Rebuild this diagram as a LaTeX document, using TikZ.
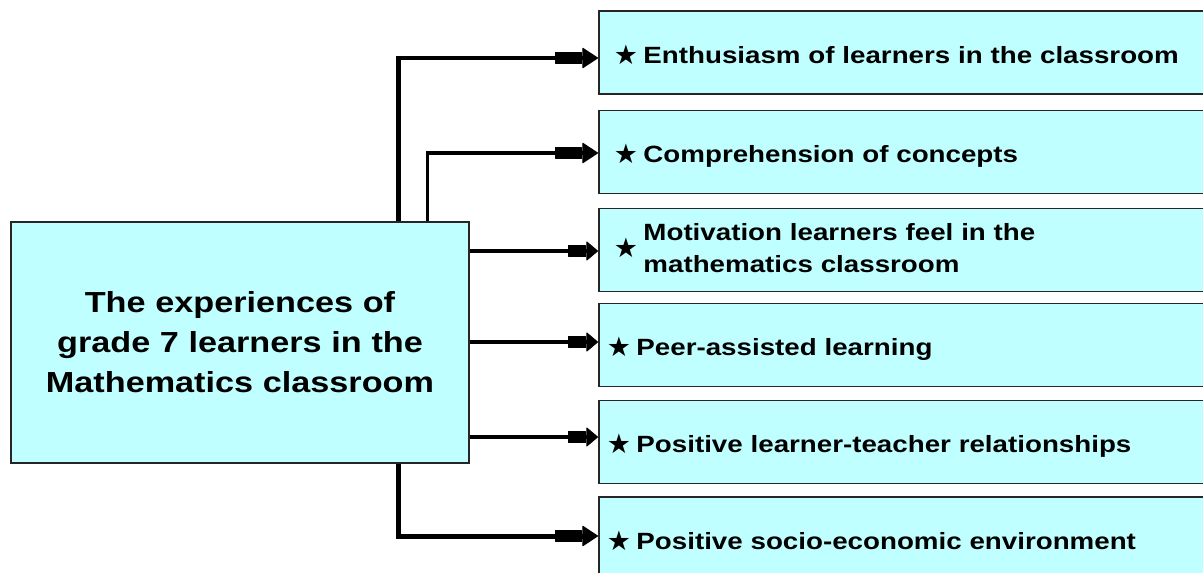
\documentclass[tikz,border=0pt]{standalone}
\usepackage{fontspec}
\setmainfont{Liberation Sans}[FakeStretch=1.18]
\newfontfamily\symfont{DejaVu Sans}
\usetikzlibrary{arrows.meta}
\definecolor{boxcyan}{HTML}{BFFFFF}
\newcommand\starglyph{\raisebox{-1pt}{\symfont\fontsize{27}{27}\selectfont ★}}
\newcommand\mystar{\starglyph\hspace{5.5pt}}
\begin{document}
\begin{tikzpicture}[x=1pt,y=-1pt,
  box/.style={draw=black!85, line width=1.5pt, fill=boxcyan},
  item/.style={box, anchor=west, minimum height=83pt, text width=590pt, inner xsep=15pt, align=left,
    text height=23pt, text depth=2pt,
    font=\fontsize{23.5}{32}\selectfont\bfseries},
  itemb/.style={item, inner xsep=8pt},
  bigtip/.style={-{Rectangle[length=27pt,width=12pt,round,line width=1pt]Triangle[length=16pt,width=21pt,round,line width=1pt]}},
  smalltip/.style={-{Rectangle[length=18pt,width=12pt,round,line width=1pt]Triangle[length=12pt,width=20pt,round,line width=1pt]}},
  thickconn/.style={line width=5pt, bigtip},
  thinconn/.style={line width=3.5pt, smalltip},
]
\clip (0,0) rectangle (1203,573);
\node[box, minimum width=458pt, minimum height=241pt, text width=440pt, align=center,
  font=\fontsize{29}{40}\selectfont\bfseries] (main) at (240,342.5)
  {The experiences of\\grade 7 learners in the\\Mathematics classroom};
\node[item] (e1) at (598,52.5) {\mystar Enthusiasm of learners in the classroom};
\node[item] (e2) at (598,152) {\mystar Comprehension of concepts};
\node[item, text height=, text depth=] (e3) at (598,250) {\begin{tabular}{@{}l@{\hspace{5.5pt}}l@{}}\starglyph &
  \begin{tabular}[c]{@{}l@{}}Motivation learners feel in the\\mathematics classroom\end{tabular}\end{tabular}};
\node[itemb] (e4) at (598,345) {\mystar Peer-assisted learning};
\node[itemb] (e5) at (598,442) {\mystar Positive learner-teacher relationships};
\node[itemb] (e6) at (598,538.5) {\mystar Positive socio-economic environment};

\draw[thickconn, line width=4.5pt] (main.north west) ++(388,0) |- ([yshift=-5.5pt]e1.west);
\draw[thinconn, line width=3.5pt, bigtip] (main.north west) ++(417,0) |- ([yshift=-1pt]e2.west);
\draw[thinconn] ([yshift=-1pt]e3.west -| main.east) -- ([yshift=-1pt]e3.west);
\draw[thinconn] ([yshift=3pt]e4.west -| main.east) -- ([yshift=3pt]e4.west);
\draw[thinconn] ([yshift=5pt]e5.west -| main.east) -- ([yshift=5pt]e5.west);
\draw[thickconn] (main.south west) ++(388,0) |- ([yshift=2.5pt]e6.west);
\end{tikzpicture}
\end{document}
